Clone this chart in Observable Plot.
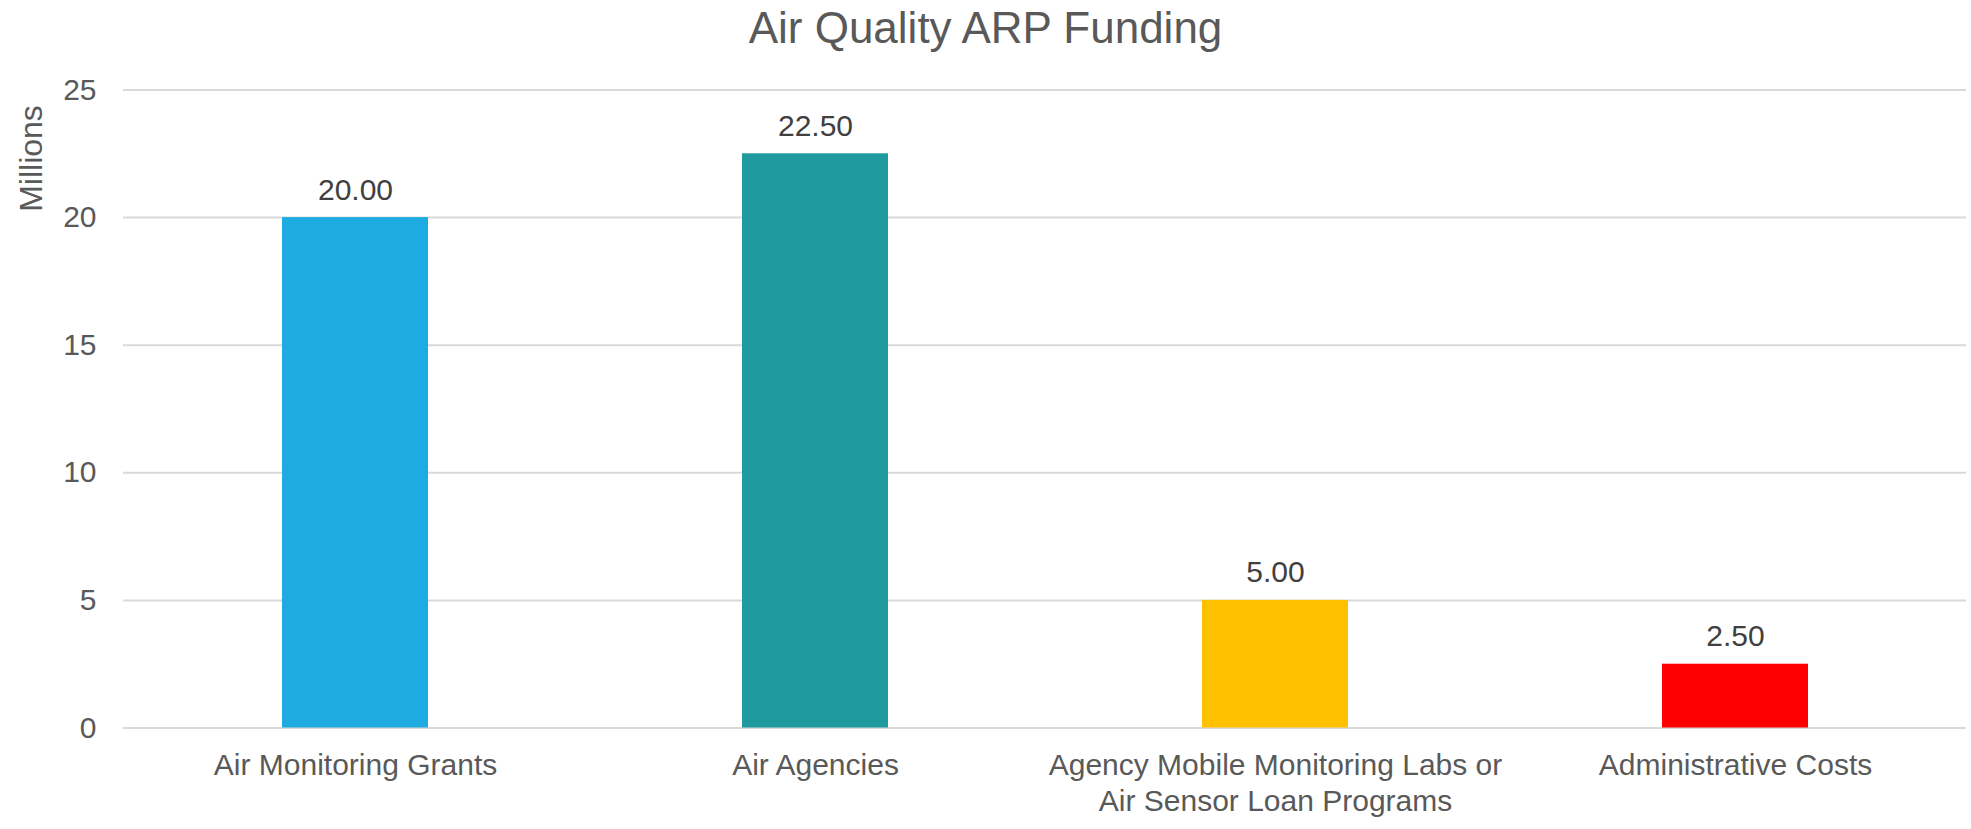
<!DOCTYPE html>
<html>
<head>
<meta charset="utf-8">
<script src="https://cdn.jsdelivr.net/npm/d3@7"></script>
<script src="https://cdn.jsdelivr.net/npm/@observablehq/plot@0.6"></script>
<style>
  html, body { margin: 0; padding: 0; background: #fff; }
  #title {
    width: 1971px; height: 56px; line-height: 56px;
    text-align: center; font-family: "Liberation Sans", Arial, sans-serif;
    font-size: 44px; color: #595959;
  }
</style>
</head>
<body>
<div id="title">Air Quality ARP Funding</div>
<div id="chart"></div>
<script>
const categories = [
  "Air Monitoring Grants",
  "Air Agencies",
  "Agency Mobile Monitoring Labs or\nAir Sensor Loan Programs",
  "Administrative Costs"
];
const values = [20.00, 22.50, 5.00, 2.50];
const colors = ["#1DABE2", "#1F9BA0", "#FFC000", "#FF0000"];
const yTicks = [0, 5, 10, 15, 20, 25];
const yLabel = "Millions";

const data = categories.map((c, i) => ({category: c, value: values[i]}));

const chart = Plot.plot({
  width: 1971,
  height: 773,
  marginTop: 33.5,
  marginBottom: 101.5,
  marginLeft: 123,
  marginRight: 5,
  style: {fontFamily: "'Liberation Sans', Arial, sans-serif", fontSize: "30px", color: "#595959", background: "#fff"},
  x: {domain: categories, paddingInner: 0.683, paddingOuter: 0.342},
  y: {domain: [0, 25]},
  color: {domain: categories, range: colors},
  marks: [
    Plot.gridY(yTicks, {stroke: "#d9d9d9", strokeOpacity: 1, strokeWidth: 2}),
    Plot.barY(data, {x: "category", y: "value", fill: "category"}),
    Plot.text(data, {x: "category", y: "value", text: d => d3.format(".2f")(d.value), lineAnchor: "bottom", dy: -18, fill: "#404040", fontSize: 30}),
    Plot.axisY(yTicks, {tickSize: 0, tickPadding: 27, label: null, fontSize: 30}),
    Plot.axisX({tickSize: 0, tickPadding: 21, label: null, fontSize: 30, lineHeight: 1.2}),
    Plot.text([yLabel], {frameAnchor: "top-left", rotate: -90, textAnchor: "middle", lineAnchor: "middle", dx: -92, dy: 68.5, fontSize: 32, fill: "#595959"})
  ]
});
document.getElementById("chart").appendChild(chart);
</script>
</body>
</html>
